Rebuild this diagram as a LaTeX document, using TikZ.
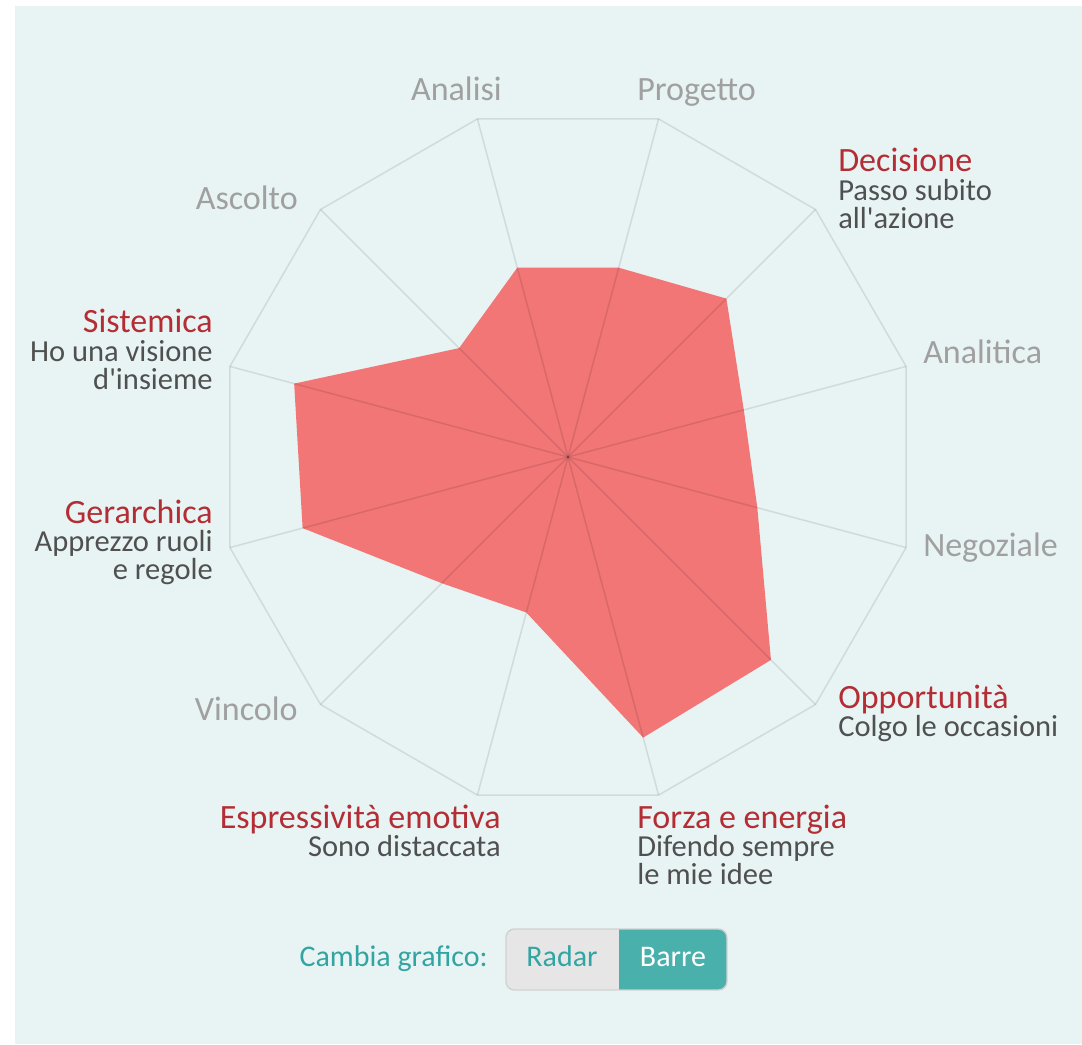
\documentclass[tikz,border=0pt]{standalone}
\usepackage{fontspec}
\setmainfont{Carlito}
\usepackage{tikz}
\usetikzlibrary{positioning}

\definecolor{panelbg}{RGB}{232,244,244}
\definecolor{radarfill}{RGB}{244,97,96}
\definecolor{titlered}{RGB}{180,45,52}
\definecolor{axisgray}{RGB}{160,160,160}
\definecolor{desctext}{RGB}{80,80,80}
\definecolor{btnteal}{RGB}{74,176,172}
\definecolor{textteal}{RGB}{50,165,163}
\definecolor{btngray}{RGB}{230,230,230}

\tikzset{
  axislabel/.style={text=axisgray, inner sep=0pt, font=\fontsize{24.2}{20}\selectfont},
  traittitle/.style={text=titlered, inner sep=0pt, font=\fontsize{24.2}{20}\selectfont},
  traitdesc/.style={text=desctext, inner sep=0pt, font=\fontsize{21.7}{19.9}\selectfont},
  gridline/.style={draw=black, draw opacity=0.1, line width=1.1pt},
}

\begin{document}
\begin{tikzpicture}[x=0.025cm, y=0.025cm]
  % Panel
  \fill[white] (-568,457) rectangle (514,-587);
  \useasboundingbox (-568,457) rectangle (514,-587);
  \fill[panelbg] (-553,451) rectangle (514,-587);

  % Axes and values
  \coordinate (c) at (0,0);
  \foreach \a/\r [count=\i] in {15/0.52, 45/0.64, 75/0.56, 105/0.56, 135/0.44, 165/0.81,
                                195/0.785, 225/0.51, 255/0.46, 285/0.83, 315/0.82, 345/0.56} {
    \coordinate (v\i) at (\a:350);
    \coordinate (d\i) at (\a:350*\r);
  }

  % Profile
  \fill[radarfill, fill opacity=0.85] (d1) \foreach \i in {2,...,12} { -- (d\i) } -- cycle;

  % Grid
  \draw[gridline] (v1) \foreach \i in {2,...,12} { -- (v\i) } -- cycle;
  \foreach \i in {1,...,12}
    \draw[gridline] (c) -- (v\i);

  % Axis labels
  \node[axislabel, anchor=base east] (analisi) at (-66,356) {Analisi};
  \node[axislabel, anchor=base west] (progetto) at (69,356) {Progetto};
  \node[axislabel, anchor=base east] (ascolto) at (-270,247) {Ascolto};
  \node[axislabel, anchor=base west] (analitica) at (355,93) {Analitica};
  \node[axislabel, anchor=base west] (negoziale) at (355,-99) {Negoziale};
  \node[axislabel, anchor=base east] (vincolo) at (-270,-263) {Vincolo};

  % Traits (base of a two-line text is its last line)
  \node[traittitle, anchor=base west] (decisione) at (270,285) {Decisione};
  \node[traitdesc, anchor=base west, align=left] (decisioneD)
    at ([yshift=-1.4cm]decisione.base west) {Passo subito\\all\textquotesingle azione};
  \node[traittitle, anchor=base east] (sistemica) at (-355,124) {Sistemica};
  \node[traitdesc, anchor=base east, align=right] (sistemicaD)
    at ([yshift=-1.4cm]sistemica.base east) {Ho una visione\\d\textquotesingle insieme};
  \node[traittitle, anchor=base east] (gerarchica) at (-355,-66) {Gerarchica};
  \node[traitdesc, anchor=base east, align=right] (gerarchicaD)
    at ([yshift=-1.4cm]gerarchica.base east) {Apprezzo ruoli\\e regole};
  \node[traittitle, anchor=base west] (opportunita) at (270,-251) {Opportunità};
  \node[traitdesc, anchor=base west, align=left] (opportunitaD)
    at ([yshift=-0.7cm]opportunita.base west) {Colgo le occasioni};
  \node[traittitle, anchor=base west] (forza) at (69,-371) {Forza e energia};
  \node[traitdesc, anchor=base west, align=left] (forzaD)
    at ([yshift=-1.4cm]forza.base west) {Difendo sempre\\le mie idee};
  \node[traittitle, anchor=base east] (espressivita) at (-67,-371) {Espressività emotiva};
  \node[traitdesc, anchor=base east, align=right] (espressivitaD)
    at ([yshift=-0.7cm]espressivita.base east) {Sono distaccata};

  % Switch
  \begin{scope}
    \clip[rounded corners=6] (-62,-472) rectangle (159,-533);
    \fill[btngray] (-62,-472) rectangle (51,-533);
    \fill[btnteal] (51,-472) rectangle (159,-533);
  \end{scope}
  \draw[black!18, line width=1pt, rounded corners=6] (-62,-472) rectangle (159,-533);
  \node[text=textteal, inner sep=0pt, font=\fontsize{21.3}{20}\selectfont, anchor=base east]
    (cambia) at (-80,-509) {Cambia grafico:};
  \node[text=textteal, inner sep=0pt, font=\fontsize{21.3}{20}\selectfont, anchor=base]
    (radar) at (-6,-509) {Radar};
  \node[text=white, inner sep=0pt, font=\fontsize{21.3}{20}\selectfont, anchor=base]
    (barre) at (105,-509) {Barre};
\end{tikzpicture}
\end{document}
